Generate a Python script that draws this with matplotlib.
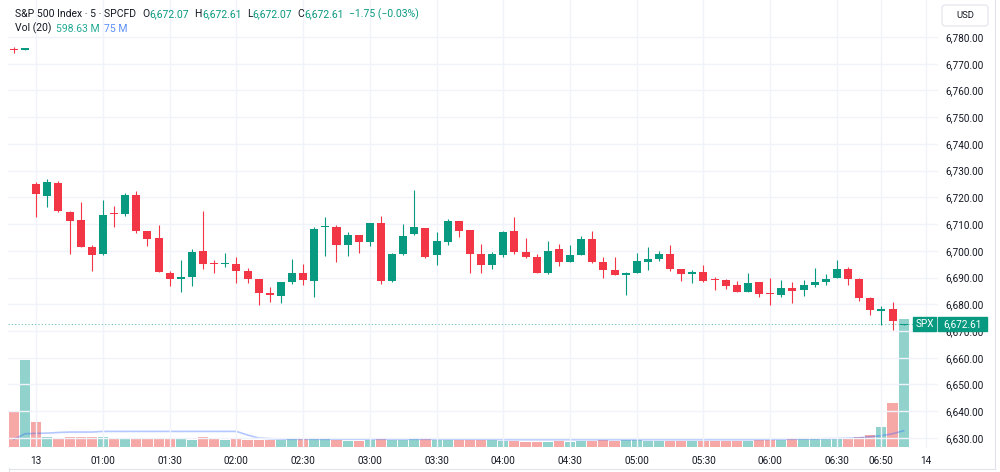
import matplotlib
matplotlib.use("Agg")
import matplotlib.pyplot as plt
from matplotlib.patches import Rectangle, FancyBboxPatch
from matplotlib.lines import Line2D
from matplotlib.transforms import IdentityTransform

# S&P 500 CFD, 5 minute bars (index 0 = first bar on screen)
opens = [6775.3, 6775.3, 6725.0, 6720.4, 6725.4, 6714.6, 6711.4, 6701.4, 6698.7, 6713.8,
         6713.8, 6720.8, 6707.4, 6704.7, 6691.6, 6689.6, 6690.1, 6699.8, 6695.1, 6694.9,
         6695.0, 6692.3, 6689.4, 6684.2, 6683.2, 6688.2, 6691.8, 6688.8, 6708.9, 6709.0,
         6702.1, 6705.8, 6703.3, 6710.3, 6688.6, 6698.7, 6706.2, 6708.5, 6698.3, 6703.3,
         6711.1, 6707.7, 6698.7, 6694.7, 6698.3, 6707.3, 6699.5, 6697.7, 6691.8, 6700.6,
         6695.9, 6698.6, 6704.5, 6695.7, 6692.8, 6691.1, 6691.8, 6695.8, 6697.1, 6698.8,
         6693.1, 6691.4, 6692.2, 6689.2, 6689.0, 6687.2, 6684.6, 6688.2, 6684.0, 6683.6,
         6686.1, 6685.2, 6687.2, 6688.2, 6689.8, 6693.1, 6689.6, 6682.5, 6677.6, 6678.4,
         6672.07]
highs = [6776.3, 6775.7, 6725.9, 6726.9, 6726.2, 6714.8, 6718.2, 6702.1, 6719.0, 6716.8,
         6721.6, 6722.5, 6707.5, 6709.7, 6692.5, 6696.6, 6700.7, 6715.0, 6696.6, 6699.1,
         6697.7, 6693.7, 6689.6, 6686.4, 6688.5, 6697.1, 6695.1, 6708.8, 6712.7, 6709.6,
         6706.9, 6706.0, 6710.6, 6713.0, 6699.3, 6710.2, 6722.8, 6708.7, 6706.9, 6712.0,
         6711.3, 6707.9, 6702.6, 6699.6, 6707.6, 6712.7, 6704.8, 6698.9, 6703.6, 6702.6,
         6702.1, 6705.4, 6707.4, 6697.6, 6697.6, 6692.2, 6699.3, 6701.4, 6699.8, 6702.1,
         6693.3, 6692.9, 6694.8, 6690.2, 6689.5, 6688.7, 6691.7, 6688.3, 6690.0, 6689.1,
         6688.5, 6689.0, 6693.7, 6691.4, 6696.6, 6694.0, 6689.7, 6682.6, 6679.4, 6681.0,
         6672.61]
lows = [6774.0, 6775.2, 6712.8, 6716.5, 6714.4, 6698.7, 6701.3, 6692.5, 6698.5, 6708.8,
        6712.9, 6706.8, 6701.9, 6692.0, 6687.0, 6684.5, 6686.7, 6693.2, 6691.8, 6694.1,
        6688.1, 6687.9, 6679.7, 6681.0, 6680.6, 6687.7, 6687.2, 6682.7, 6698.2, 6695.8,
        6698.2, 6699.3, 6701.9, 6687.7, 6688.4, 6698.5, 6706.0, 6697.2, 6694.8, 6702.3,
        6705.1, 6691.8, 6691.6, 6693.2, 6697.7, 6698.9, 6697.2, 6691.7, 6691.2, 6694.4,
        6695.8, 6698.3, 6695.5, 6690.0, 6691.0, 6683.6, 6691.7, 6692.9, 6696.2, 6692.5,
        6688.7, 6688.0, 6688.5, 6685.3, 6685.6, 6684.5, 6684.5, 6682.6, 6679.7, 6682.8,
        6680.6, 6683.2, 6686.4, 6687.1, 6689.7, 6687.3, 6681.2, 6675.9, 6672.3, 6670.3,
        6672.07]
closes = [6775.0, 6775.6, 6721.3, 6725.6, 6714.9, 6711.1, 6701.5, 6698.6, 6713.5, 6713.6,
          6720.8, 6707.5, 6704.3, 6692.2, 6689.6, 6690.2, 6699.6, 6695.1, 6694.9, 6695.5,
          6692.6, 6689.4, 6684.1, 6683.5, 6688.2, 6691.6, 6689.0, 6708.2, 6709.4, 6702.1,
          6705.8, 6703.2, 6710.4, 6688.8, 6698.9, 6705.6, 6708.8, 6697.7, 6703.7, 6711.1,
          6707.5, 6698.7, 6694.7, 6698.7, 6707.2, 6699.5, 6697.7, 6691.8, 6700.1, 6695.9,
          6698.4, 6704.4, 6695.7, 6692.8, 6691.1, 6691.8, 6696.2, 6697.1, 6698.7, 6693.1,
          6691.4, 6692.2, 6688.8, 6689.0, 6687.0, 6684.6, 6688.1, 6683.9, 6683.8, 6686.0,
          6685.1, 6687.2, 6688.2, 6689.6, 6693.1, 6689.5, 6682.2, 6677.8, 6678.4, 6673.8,
          6672.61]
# volume in millions
volumes = [169, 407, 114, 46, 42, 47, 44, 44, 44, 39,
           36, 36, 36, 36, 41, 38, 33, 44, 36, 33,
           36, 30, 33, 33, 33, 36, 34, 36, 39, 33,
           27, 27, 31, 36, 31, 31, 34, 34, 33, 33,
           31, 31, 31, 31, 27, 27, 22, 22, 24, 28,
           24, 28, 28, 31, 28, 31, 31, 28, 28, 27,
           27, 27, 25, 25, 25, 25, 27, 31, 33, 31,
           34, 34, 36, 38, 41, 41, 48, 56, 91, 207,
           598.63]
# Vol (20) moving average as shown on the chart
vol_ma = [35, 61, 63, 64, 67, 69, 69, 69, 72, 72,
          72, 72, 72, 72, 72, 72, 72, 72, 72, 72,
          72, 55, 41, 38, 36, 35, 35, 35, 35, 35,
          35, 35, 35, 35, 35, 35, 35, 35, 35, 35,
          35, 35, 35, 35, 33, 33, 33, 33, 33, 33,
          33, 33, 33, 33, 33, 33, 33, 33, 33, 33,
          33, 33, 33, 33, 33, 33, 33, 34, 34, 35,
          35, 36, 36, 38, 38, 40, 42, 47, 52, 61,
          75]

tick_pos = [2, 8, 14, 20, 26, 32, 38, 44, 50, 56, 62, 68, 74, 78, 82]
tick_labels = ['13', '01:00', '01:30', '02:00', '02:30', '03:00', '03:30', '04:00',
               '04:30', '05:00', '05:30', '06:00', '06:30', '06:50', '14']
price_ticks = list(range(6630, 6790, 10))

GREEN = '#089981'
RED = '#f23645'
TXT = '#131722'
GRID = '#f0f3fa'
BORDER = '#e0e3eb'

plt.rcParams['font.family'] = ['Roboto', 'DejaVu Sans']

W, H = 1000, 472
fig = plt.figure(figsize=(W / 100, H / 100), dpi=100)
fig.patch.set_facecolor('white')

ax = fig.add_axes([8 / W, 1 - 448 / H, 930 / W, 448 / H])
axv = ax.twinx()
ax.set_zorder(2)
axv.set_zorder(1)
ax.patch.set_visible(False)

n = len(closes)
idx = list(range(n))
up = [c >= o for o, c in zip(opens, closes)]
cols = [GREEN if u else RED for u in up]

# volume overlay
vcols = ['#26a69a' if u else '#ef5350' for u in up]
axv.bar(idx, volumes, width=0.91, color=vcols, alpha=0.5, linewidth=0)
axv.plot(idx, vol_ma, color='#2962ff', alpha=0.35, lw=1.2)
axv.set_ylim(-6, 2100)
axv.set_yticks([])
for s in axv.spines.values():
    s.set_visible(False)

# candles
ax.vlines(idx, lows, highs, colors=cols, lw=0.8, zorder=3)
body_bot = [min(o, c) for o, c in zip(opens, closes)]
body_h = [max(abs(c - o), 0.45) for o, c in zip(opens, closes)]
ax.bar(idx, body_h, bottom=body_bot, width=0.72, color=cols, linewidth=0, zorder=4)

ax.axhline(closes[-1], color=GREEN, lw=0.8, ls=(0, (1, 2)), alpha=0.6, zorder=2)

ax.set_xlim(-0.54, 83.09)
ax.set_ylim(6626.24, 6793.84)
ax.yaxis.tick_right()
ax.set_yticks(price_ticks, [f'{p:,.2f}' for p in price_ticks])
ax.set_xticks(tick_pos, tick_labels)
ax.tick_params(axis='both', length=0, labelsize=7.2, colors=TXT)
ax.tick_params(axis='y', pad=5)
ax.tick_params(axis='x', pad=6)
ax.grid(True, color=GRID, lw=1)
ax.set_axisbelow(True)
for s in ax.spines.values():
    s.set_visible(False)

# frame
fig.add_artist(Line2D([8.5 / W, 8.5 / W], [0, 1 - 468 / H], color=BORDER, lw=0.8))
fig.add_artist(Line2D([8.5 / W, 995 / W], [1 - 468.5 / H, 1 - 468.5 / H], color=BORDER, lw=0.8))
fig.add_artist(Line2D([995 / W, 995 / W], [1 - 468.5 / H, 1], color=BORDER, lw=0.8))

# last price label
y_last = ax.transData.transform((0, closes[-1]))[1]
fig.add_artist(Rectangle((913, y_last - 7), 23, 14, transform=IdentityTransform(),
                         color=GREEN, zorder=10))
fig.add_artist(Rectangle((938, y_last - 7), 49, 14, transform=IdentityTransform(),
                         color=GREEN, zorder=10))
fig.text(924.5 / W, y_last / H, 'SPX', color='white', fontsize=7.2,
         ha='center', va='center', zorder=11)
fig.text(962.5 / W, y_last / H, f'{closes[-1]:,.2f}', color='white', fontsize=7.2,
         ha='center', va='center', zorder=11)

# currency box
fig.add_artist(FancyBboxPatch((942, H - 26), 46, 21, boxstyle='round,pad=0,rounding_size=3',
                              transform=IdentityTransform(), fc='white', ec=BORDER, lw=0.8,
                              zorder=10))
fig.text(965 / W, 1 - 15.5 / H, 'USD', color=TXT, fontsize=6.8, ha='center', va='center', zorder=11)

# legend text, each piece placed right after the previous one
renderer = fig.canvas.get_renderer()


def text_row(x, y, parts, fs=7.5):
    for s, c, gap in parts:
        t = fig.text(x / W, 1 - y / H, s, color=c, fontsize=fs, va='center')
        x = t.get_window_extent(renderer).x1 + gap


text_row(15, 14, [('S&P 500 Index · 5 · SPCFD', TXT, 6), ('O', TXT, 0.5),
                  ('6,672.07', GREEN, 5), ('H', TXT, 0.5), ('6,672.61', GREEN, 5),
                  ('L', TXT, 0.5), ('6,672.07', GREEN, 5), ('C', TXT, 0.5),
                  ('6,672.61', GREEN, 5), ('\u22121.75 (\u22120.03%)', GREEN, 0)])
text_row(15, 28.5, [('Vol (20)', TXT, 5), ('598.63 M', '#22ab94', 4),
                    ('75 M', '#5b8ff9', 0)])

plt.savefig('out.png', dpi=100, facecolor='white')
